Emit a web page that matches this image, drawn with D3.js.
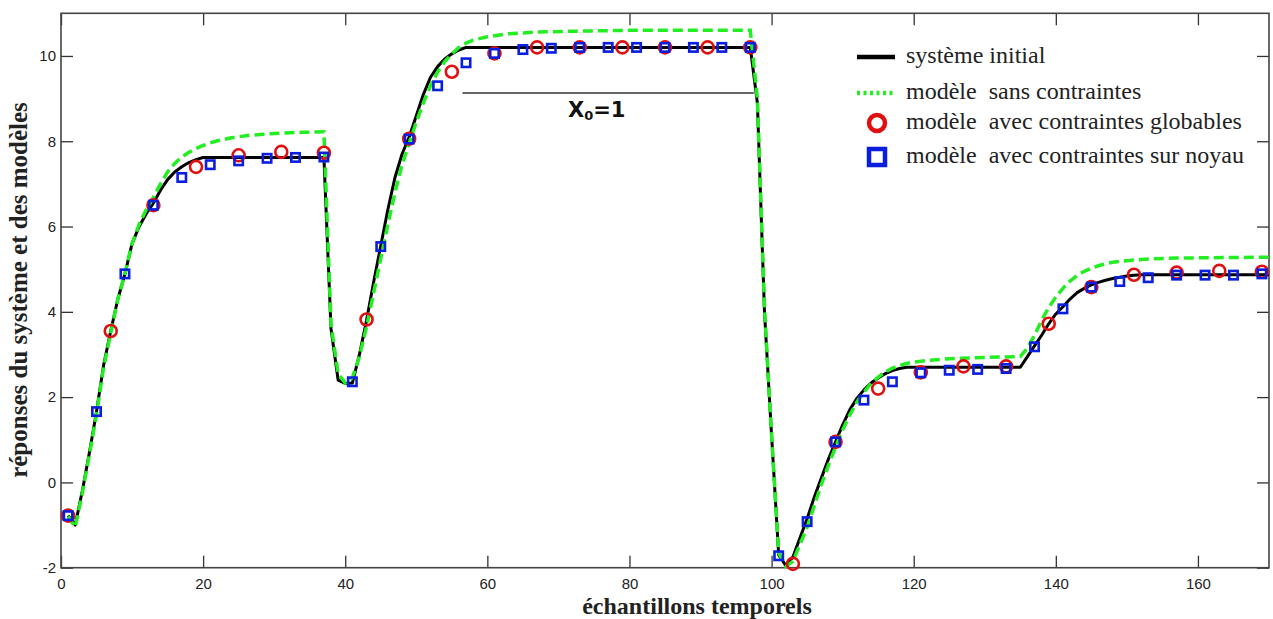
<!DOCTYPE html>
<meta charset="utf-8">
<script src="https://d3js.org/d3.v7.min.js"></script>
<style>
  body { margin: 0; background: #fff; }
</style>
<div id="chart"></div>
<script>
// échantillons (x) et réponses
const sysX = [1,2,3,4,5,6,7,8,9,10,11,12,13,14,15,16,17,18,19,20,37,38,39,40,41,42,43,44,45,46,47,48,49,50,51,52,53,54,55,56,57,97,98,99,100,101,102,103,104,105,106,107,108,109,110,111,112,113,114,115,116,117,118,119,135,136,137,138,139,140,141,142,143,144,145,146,147,148,149,150,151,152,170]
const sysY = [-0.78,-1.0,-0.2,0.7,1.66,2.75,3.55,4.3,4.89,5.6,6.0,6.3,6.55,6.85,7.1,7.28,7.4,7.5,7.57,7.62,7.62,3.6,2.4,2.32,2.33,3.0,3.8,4.7,5.55,6.4,7.15,7.7,8.1,8.6,9.1,9.5,9.75,9.93,10.05,10.14,10.2,10.2,8.9,4.0,1.1,-1.7,-1.95,-1.75,-1.3,-0.85,-0.35,0.1,0.55,0.95,1.35,1.7,1.97,2.17,2.33,2.45,2.55,2.62,2.67,2.7,2.7,2.95,3.2,3.45,3.72,3.95,4.12,4.3,4.45,4.55,4.63,4.69,4.74,4.78,4.81,4.84,4.86,4.87,4.87]

const libreX = [1,2,3,4,5,6,7,8,9,10,11,12,13,14,15,16,17,18,19,20,21,22,24,26,28,31,34,37,38,39,40,41,42,43,44,45,46,47,48,49,50,51,52,53,54,55,56,57,58,60,63,67,72,80,97,98,99,100,101,102,103,104,105,106,107,108,109,110,111,112,113,114,115,116,117,118,119,120,122,125,128,132,135,136,137,138,139,140,141,142,143,144,145,146,147,148,150,153,157,162,170]
const libreY = [-0.8,-1.05,-0.25,0.65,1.6,2.7,3.5,4.3,4.9,5.6,6.05,6.4,6.68,7.0,7.28,7.48,7.63,7.74,7.83,7.9,7.96,8.01,8.08,8.13,8.16,8.19,8.21,8.22,3.7,2.55,2.33,2.45,2.95,3.65,4.45,5.25,6.05,6.8,7.45,7.95,8.45,8.9,9.3,9.62,9.87,10.05,10.2,10.3,10.37,10.45,10.52,10.56,10.58,10.6,10.6,9.0,4.1,1.1,-1.65,-1.97,-1.85,-1.45,-1.05,-0.55,-0.05,0.4,0.83,1.23,1.58,1.88,2.12,2.32,2.47,2.59,2.68,2.74,2.79,2.82,2.86,2.9,2.92,2.94,2.95,3.15,3.45,3.8,4.1,4.35,4.55,4.72,4.85,4.95,5.02,5.08,5.13,5.16,5.2,5.24,5.26,5.27,5.28]

const globX = [1,7,13,19,25,31,37,43,49,55,61,67,73,79,85,91,97,103,109,115,121,127,133,139,145,151,157,163,169]
const globY = [-0.78,3.55,6.5,7.4,7.67,7.75,7.73,3.82,8.06,9.63,10.06,10.2,10.2,10.2,10.2,10.2,10.2,-1.91,0.95,2.2,2.58,2.72,2.72,3.72,4.58,4.87,4.92,4.96,4.94]

const noyauX = [1,5,9,13,17,21,25,29,33,37,41,45,49,53,57,61,65,69,73,77,81,85,89,93,97,101,105,109,113,117,121,125,129,133,137,141,145,149,153,157,161,165,169]
const noyauY = [-0.78,1.66,4.89,6.5,7.15,7.45,7.54,7.6,7.62,7.63,2.36,5.53,8.05,9.3,9.84,10.06,10.15,10.18,10.2,10.2,10.2,10.2,10.2,10.2,10.2,-1.72,-0.92,0.95,1.93,2.36,2.57,2.63,2.65,2.67,3.18,4.07,4.58,4.71,4.8,4.86,4.86,4.86,4.89]

const xTicks = [0,20,40,60,80,100,120,140,160]
const yTicks = [-2,0,2,4,6,8,10]

const legendLabels = ["système initial", "modèle  sans contraintes", "modèle  avec contraintes globables", "modèle  avec contraintes sur noyau"]

const width = 1273, height = 619
const mLeft = 61, mRight = 1269, mTop = 13.3, mBottom = 567.7

const svg = d3.select("#chart").append("svg")
    .attr("width", width)
    .attr("height", height)
    .style("display", "block")

const x = d3.scaleLinear().domain([0, 170]).range([mLeft, mRight])
const y = d3.scaleLinear().domain([-2, 11]).range([mBottom, mTop])

// axes, ticks vers l'intérieur sur les 4 côtés
svg.append("g").attr("transform", `translate(0,${mBottom})`)
    .call(d3.axisBottom(x).tickValues(xTicks).tickSize(-12).tickPadding(11).tickFormat(d => String(d)))
svg.append("g").attr("transform", `translate(${mLeft},0)`)
    .call(d3.axisLeft(y).tickValues(yTicks).tickSize(-12).tickPadding(5).tickFormat(d => String(d)))
svg.append("g").attr("transform", `translate(0,${mTop})`)
    .call(d3.axisTop(x).tickValues(xTicks).tickSize(-12).tickFormat(""))
svg.append("g").attr("transform", `translate(${mRight},0)`)
    .call(d3.axisRight(y).tickValues(yTicks).tickSize(-12).tickFormat(""))

svg.selectAll(".domain").remove()
svg.selectAll(".tick line").attr("stroke", "#333").attr("stroke-width", 1.3)
svg.selectAll(".tick text")
    .style("font-family", "Liberation Sans, Arial, sans-serif")
    .style("font-size", "15px")
    .attr("fill", "#222")

svg.append("rect")
    .attr("x", mLeft).attr("y", mTop)
    .attr("width", mRight - mLeft).attr("height", mBottom - mTop)
    .attr("fill", "none").attr("stroke", "#444").attr("stroke-width", 1.6)

// courbes
const line = d3.line().x(d => x(d[0])).y(d => y(d[1]))

svg.append("path")
    .datum(d3.zip(sysX, sysY))
    .attr("d", line)
    .attr("fill", "none")
    .attr("stroke", "#000")
    .attr("stroke-width", 3)
    .attr("stroke-linejoin", "round")

svg.append("path")
    .datum(d3.zip(libreX, libreY))
    .attr("d", line)
    .attr("fill", "none")
    .attr("stroke", "#22ee22")
    .attr("stroke-width", 3.5)
    .attr("stroke-dasharray", "10,5")

svg.append("g").selectAll("circle")
    .data(d3.zip(globX, globY))
    .join("circle")
    .attr("cx", d => x(d[0]))
    .attr("cy", d => y(d[1]))
    .attr("r", 6)
    .attr("fill", "none")
    .attr("stroke", "#e01010")
    .attr("stroke-width", 2.6)

svg.append("g").selectAll("rect")
    .data(d3.zip(noyauX, noyauY))
    .join("rect")
    .attr("x", d => x(d[0]) - 4.2)
    .attr("y", d => y(d[1]) - 4.2)
    .attr("width", 8.4)
    .attr("height", 8.4)
    .attr("fill", "none")
    .attr("stroke", "#0a1ee0")
    .attr("stroke-width", 2.6)

// annotation X0=1
svg.append("line")
    .attr("x1", x(56.5)).attr("x2", x(97.5))
    .attr("y1", 93).attr("y2", 93)
    .attr("stroke", "#333").attr("stroke-width", 1.4)

const ann = svg.append("text")
    .attr("x", 568).attr("y", 117)
    .style("font-family", "DejaVu Sans, sans-serif")
    .style("font-weight", "bold")
    .style("font-size", "21px")
    .attr("fill", "#111")
ann.append("tspan").text("X")
ann.append("tspan").attr("dy", 3).style("font-size", "13px").text("0")
ann.append("tspan").attr("dy", -3).text("=1")

// légende
const lgY = [57, 93, 123, 157]
const lg = svg.append("g")
lg.append("line").attr("x1", 857).attr("x2", 895).attr("y1", lgY[0]).attr("y2", lgY[0])
    .attr("stroke", "#000").attr("stroke-width", 4.5)
lg.append("line").attr("x1", 857).attr("x2", 896).attr("y1", lgY[1]).attr("y2", lgY[1])
    .attr("stroke", "#22ee22").attr("stroke-width", 4.5).attr("stroke-dasharray", "3,3.5")
lg.append("circle").attr("cx", 877).attr("cy", lgY[2]).attr("r", 8)
    .attr("fill", "none").attr("stroke", "#e01010").attr("stroke-width", 4.5)
lg.append("rect").attr("x", 869).attr("y", lgY[3] - 8).attr("width", 16).attr("height", 16)
    .attr("fill", "none").attr("stroke", "#0a1ee0").attr("stroke-width", 4.5)

lg.selectAll("text")
    .data(legendLabels)
    .join("text")
    .attr("x", 906)
    .attr("y", (d, i) => lgY[i] + 6)
    .attr("xml:space", "preserve")
    .style("white-space", "pre")
    .style("font-family", "Liberation Serif, Times New Roman, serif")
    .style("font-size", "24px")
    .attr("fill", "#222")
    .text(d => d)

// titres des axes
svg.append("text")
    .attr("x", 697).attr("y", 614)
    .attr("text-anchor", "middle")
    .style("font-family", "Liberation Serif, Times New Roman, serif")
    .style("font-weight", "bold")
    .style("font-size", "24px")
    .attr("fill", "#222")
    .text("échantillons temporels")

svg.append("text")
    .attr("transform", "translate(27,290) rotate(-90)")
    .attr("text-anchor", "middle")
    .style("font-family", "Liberation Serif, Times New Roman, serif")
    .style("font-weight", "bold")
    .style("font-size", "25px")
    .attr("fill", "#222")
    .text("réponses du système et des modèles")
</script>
